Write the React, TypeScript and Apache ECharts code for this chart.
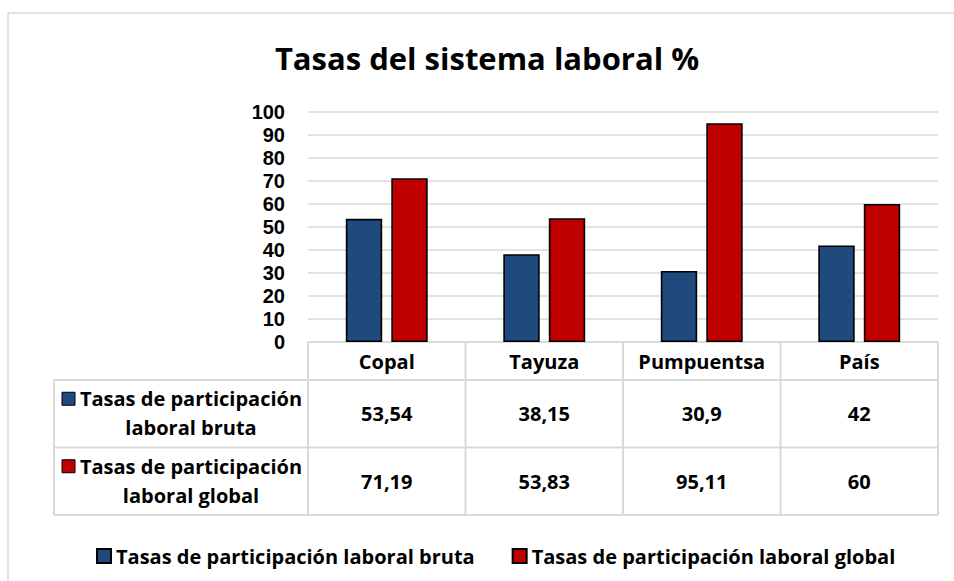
import React, { useEffect, useRef } from "react";
import * as echarts from "echarts";

const titleText = "Tasas del sistema laboral %";
const categories = ["Copal", "Tayuza", "Pumpuentsa", "País"];
const seriesNames = [
  "Tasas de participación laboral bruta",
  "Tasas de participación laboral global",
];
const brutaValues = [53.54, 38.15, 30.9, 42];
const globalValues = [71.19, 53.83, 95.11, 60];
const rowLabelLines = [
  ["Tasas de participación", "laboral bruta"],
  ["Tasas de participación", "laboral global"],
];
const seriesColors = ["#1F4A7D", "#C00000"];

const FONT = "Open Sans";
const AXIS_FONT = "Liberation Sans";
const FS = 20;
const GRID_COLOR = "#D9D9D9";

const fmt = (v: number) => String(v).replace(".", ",");

export default function App() {
  const ref = useRef<HTMLDivElement>(null);

  useEffect(() => {
    if (!ref.current) return;
    const chart = echarts.init(ref.current, null, { renderer: "svg" });

    const option: any = {
      animation: false,
      backgroundColor: "#FFFFFF",
      textStyle: { fontFamily: FONT },
      grid: { left: 308, right: 16, top: 112, bottom: 239, containLabel: false },
      legend: {
        data: seriesNames,
        left: 91,
        top: 541,
        itemWidth: 14,
        itemHeight: 14,
        itemGap: 37,
        icon: "rect",
        textStyle: { fontFamily: FONT, fontSize: FS, fontWeight: "bold", color: "#000" },
      },
      xAxis: {
        type: "category",
        data: categories,
        axisLine: { show: false },
        axisTick: { show: false },
        axisLabel: {
          interval: 0,
          hideOverlap: false,
          margin: 9,
          fontFamily: FONT,
          fontSize: FS,
          fontWeight: "bold",
          color: "#000",
        },
      },
      yAxis: {
        type: "value",
        min: 0,
        max: 100,
        interval: 10,
        axisLine: { show: false },
        axisTick: { show: false },
        axisLabel: {
          margin: 23,
          fontFamily: AXIS_FONT,
          fontSize: 20,
          lineHeight: 20,
          fontWeight: "bold",
          color: "#000",
        },
        splitLine: { lineStyle: { color: GRID_COLOR, width: 1.5 } },
      },
      series: [
        {
          name: seriesNames[0],
          type: "bar",
          data: brutaValues,
          barGap: "25%",
          barCategoryGap: "48%",
          itemStyle: { color: seriesColors[0], borderColor: "#000", borderWidth: 1.6 },
        },
        {
          name: seriesNames[1],
          type: "bar",
          data: globalValues,
          barGap: "25%",
          barCategoryGap: "48%",
          itemStyle: { color: seriesColors[1], borderColor: "#000", borderWidth: 1.6 },
        },
      ],
    };
    chart.setOption(option);

    // Build the data table from the axis scales
    const c0 = chart.convertToPixel({ xAxisIndex: 0 }, categories[0]) as number;
    const c1 = chart.convertToPixel({ xAxisIndex: 0 }, categories[1]) as number;
    const band = c1 - c0;
    const tableLeft = c0 - band / 2;
    const tableRight = tableLeft + band * categories.length;
    const yTop = chart.convertToPixel({ yAxisIndex: 0 }, 0) as number;
    const headerBottom = yTop + 38;
    const rowH = 67.5;
    const labelLeft = 54;
    const rows = [brutaValues, globalValues];
    const tableBottom = headerBottom + rowH * rows.length;

    const lineStyle = { stroke: GRID_COLOR, lineWidth: 2 };
    const elements: any[] = [];

    // outer chart border
    elements.push({
      type: "rect",
      shape: { x: 8, y: 13, width: 980, height: 620 },
      style: { fill: "none", stroke: GRID_COLOR, lineWidth: 1.5 },
      silent: true,
    });

    // title
    elements.push({
      type: "text",
      x: 487,
      y: 58,
      style: {
        text: titleText,
        fontFamily: FONT,
        fontSize: 31,
        fontWeight: "bold",
        fill: "#000",
        align: "center",
        verticalAlign: "middle",
      },
    });

    // header top line
    elements.push({ type: "line", shape: { x1: tableLeft, y1: yTop, x2: tableRight, y2: yTop }, style: lineStyle });
    // horizontal lines
    for (let r = 0; r <= rows.length; r++) {
      const y = headerBottom + r * rowH;
      elements.push({ type: "line", shape: { x1: labelLeft, y1: y, x2: tableRight, y2: y }, style: lineStyle });
    }
    // vertical lines
    elements.push({ type: "line", shape: { x1: labelLeft, y1: headerBottom, x2: labelLeft, y2: tableBottom }, style: lineStyle });
    for (let i = 0; i <= categories.length; i++) {
      const x = tableLeft + i * band;
      elements.push({ type: "line", shape: { x1: x, y1: yTop, x2: x, y2: tableBottom }, style: lineStyle });
    }

    const textStyle = (text: string) => ({
      text,
      fontFamily: FONT,
      fontSize: FS,
      fontWeight: "bold",
      fill: "#000",
      align: "center",
      verticalAlign: "middle",
    });

    // values and row labels
    rows.forEach((vals, r) => {
      const cy = headerBottom + r * rowH + rowH / 2;
      vals.forEach((v, i) => {
        const cx = chart.convertToPixel({ xAxisIndex: 0 }, categories[i]) as number;
        elements.push({ type: "text", x: cx, y: cy, style: textStyle(fmt(v)) });
      });
      const lx = 191;
      const l1 = cy - 15;
      const l2 = cy + 14;
      elements.push({ type: "text", x: lx, y: l1, style: textStyle(rowLabelLines[r][0]) });
      elements.push({ type: "text", x: lx, y: l2, style: textStyle(rowLabelLines[r][1]) });
      elements.push({
        type: "rect",
        shape: { x: 62, y: l1 - 6.5, width: 13, height: 13 },
        style: { fill: seriesColors[r], stroke: "#000", lineWidth: 1 },
      });
    });

    chart.setOption({ graphic: { elements } });

    return () => chart.dispose();
  }, []);

  return (
    <div
      ref={ref}
      style={{ position: "fixed", left: 0, top: 0, width: 954, height: 581, background: "#fff" }}
    />
  );
}
